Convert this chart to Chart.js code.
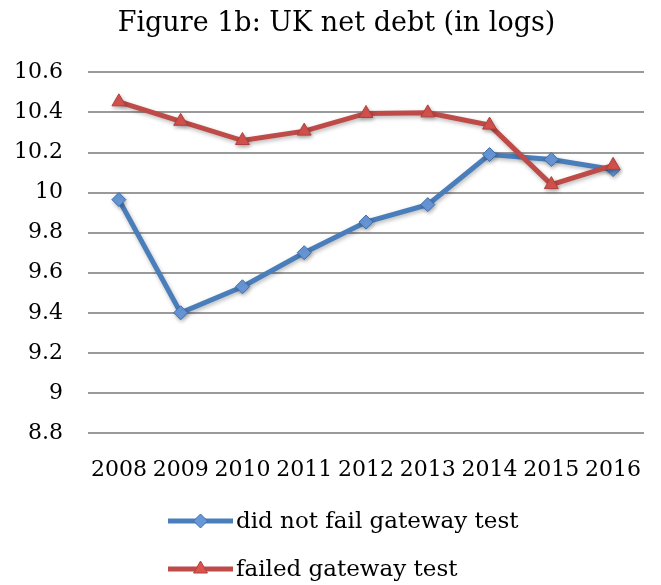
<!DOCTYPE html>
<html>
<head>
<meta charset="utf-8">
<script src="https://cdn.jsdelivr.net/npm/chart.js@4.4.1/dist/chart.umd.min.js"></script>
<style>
  html, body { margin: 0; padding: 0; background: #fff; }
  #wrap { width: 661px; height: 585px; position: relative; }
</style>
</head>
<body>
<div id="wrap"><canvas id="debtChart"></canvas></div>
<script>
// data
const years = ["2008", "2009", "2010", "2011", "2012", "2013", "2014", "2015", "2016"];
const notFailed = [9.965, 9.40, 9.53, 9.70, 9.853, 9.94, 10.19, 10.165, 10.115];
const failed = [10.453, 10.356, 10.26, 10.307, 10.395, 10.398, 10.337, 10.04, 10.136];
const yTicks = [8.8, 9, 9.2, 9.4, 9.6, 9.8, 10, 10.2, 10.4, 10.6];

const serif = "'DejaVu Serif', 'Liberation Serif', serif";

// soft drop shadow under the series, like the office original
const softShadow = {
  id: "softShadow",
  beforeDatasetsDraw(chart) {
    const c = chart.ctx;
    c.save();
    c.shadowColor = "rgba(0,0,0,0.28)";
    c.shadowBlur = 4;
    c.shadowOffsetX = 1;
    c.shadowOffsetY = 2;
  },
  afterDatasetsDraw(chart) {
    chart.ctx.restore();
  }
};

// legend drawn under the axis, one row per series, left aligned
const stackedLegend = {
  id: "stackedLegend",
  afterDraw(chart) {
    const ctx = chart.ctx;
    const x0 = 168, lineLen = 65;
    const rows = [521, 569];
    ctx.save();
    chart.data.datasets.forEach((ds, i) => {
      const y = rows[i];
      ctx.strokeStyle = ds.borderColor;
      ctx.lineWidth = ds.borderWidth;
      ctx.beginPath();
      ctx.moveTo(x0, y);
      ctx.lineTo(x0 + lineLen, y);
      ctx.stroke();
      ctx.fillStyle = ds.pointBackgroundColor;
      ctx.strokeStyle = ds.pointBorderColor;
      ctx.lineWidth = 1;
      Chart.helpers.drawPoint(ctx, {
        pointStyle: ds.pointStyle,
        radius: ds.pointRadius,
        borderWidth: 1
      }, x0 + lineLen / 2, y);
      ctx.fillStyle = "#000";
      ctx.font = "23px " + serif;
      ctx.textBaseline = "middle";
      ctx.textAlign = "left";
      ctx.fillText(ds.label, x0 + lineLen + 3, y + 1);
    });
    ctx.restore();
  }
};

window.addEventListener("load", () => {
  const ctx = document.getElementById("debtChart").getContext("2d");
  new Chart(ctx, {
    type: "line",
    data: {
      labels: years,
      datasets: [
        {
          label: "did not fail gateway test",
          data: notFailed,
          borderColor: "#4a7ebb",
          borderWidth: 5,
          pointStyle: "rectRot",
          pointRadius: 7,
          pointBackgroundColor: "#6897d8",
          pointBorderColor: "#3f6fab",
          pointBorderWidth: 1,
          tension: 0,
          order: 1
        },
        {
          label: "failed gateway test",
          data: failed,
          borderColor: "#be4b48",
          borderWidth: 5,
          pointStyle: "triangle",
          pointRadius: 8,
          pointBackgroundColor: "#d9534f",
          pointBorderColor: "#b0403d",
          pointBorderWidth: 1,
          tension: 0,
          order: 0
        }
      ]
    },
    options: {
      responsive: true,
      maintainAspectRatio: false,
      animation: false,
      layout: { padding: { left: 12, right: 0, top: 0, bottom: 102 } },
      plugins: {
        legend: { display: false },
        tooltip: { enabled: false },
        title: {
          display: true,
          text: "Figure 1b: UK net debt (in logs)",
          color: "#000",
          font: { family: serif, size: 27, weight: "normal", lineHeight: 1.2 },
          padding: { top: 8, bottom: 32 }
        }
      },
      scales: {
        x: {
          offset: true,
          grid: { display: false },
          border: { display: false },
          ticks: {
            color: "#000",
            font: { family: serif, size: 22 },
            padding: 16,
            maxRotation: 0,
            autoSkip: false
          },
          afterFit: (s) => { s.height = 50; }
        },
        y: {
          min: 8.8,
          max: 10.6,
          border: { display: false },
          grid: { color: "#9a9a9a", lineWidth: 2, drawTicks: false },
          afterBuildTicks: (s) => { s.ticks = yTicks.map(v => ({ value: v })); },
          ticks: {
            color: "#000",
            font: { family: serif, size: 22 },
            padding: 25,
            callback: (v) => String(Math.round(v * 10) / 10)
          },
          afterFit: (s) => { s.width = 76; }
        },
        yRight: {
          position: "right",
          display: true,
          grid: { display: false },
          border: { display: false },
          ticks: { display: false },
          afterFit: (s) => { s.width = 17; }
        }
      }
    },
    plugins: [softShadow, stackedLegend]
  });
});
</script>
</body>
</html>
